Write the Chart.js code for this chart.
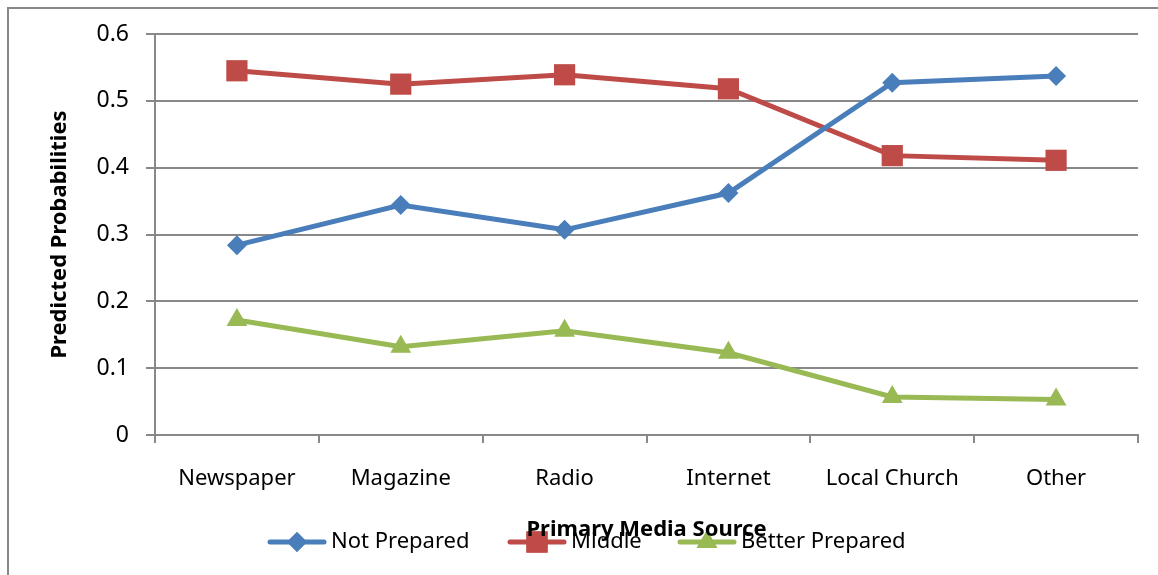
<!DOCTYPE html>
<html>
<head>
<meta charset="utf-8">
<script src="https://cdn.jsdelivr.net/npm/chart.js@4.4.1/dist/chart.umd.min.js"></script>
<style>
  html, body { margin: 0; padding: 0; background: #fff; }
  #wrap { width: 1158px; height: 575px; position: relative; }
</style>
</head>
<body>
<div id="wrap"><canvas id="chart"></canvas></div>
<script>
// categories and predicted probabilities
const categories = ['Newspaper', 'Magazine', 'Radio', 'Internet', 'Local Church', 'Other'];
const notPrepared = [0.284, 0.344, 0.307, 0.362, 0.527, 0.537];
const middle = [0.545, 0.525, 0.539, 0.518, 0.418, 0.411];
const betterPrepared = [0.172, 0.132, 0.156, 0.123, 0.057, 0.053];
const yTicks = [0, 0.1, 0.2, 0.3, 0.4, 0.5, 0.6];

const FONT = "'Noto Sans', 'DejaVu Sans', sans-serif";
const GRID = '#888888';

const series = [
  { label: 'Not Prepared', data: notPrepared, color: '#4A7EBB', style: 'rectRot', radius: 10 },
  { label: 'Middle', data: middle, color: '#BE4B48', style: 'rect', radius: 15 },
  { label: 'Better Prepared', data: betterPrepared, color: '#98B954', style: 'triangle', radius: 12 }
];

// frame round the chart (left and top edges only are visible)
const framePlugin = {
  id: 'frame',
  afterDraw(chart) {
    const ctx = chart.ctx;
    ctx.save();
    ctx.strokeStyle = GRID;
    ctx.lineWidth = 2;
    ctx.beginPath();
    ctx.moveTo(8, 575);
    ctx.lineTo(8, 8);
    ctx.lineTo(1158, 8);
    ctx.stroke();
    ctx.restore();
  }
};

// excel-like legend: line with the marker in the middle, drawn under the axis title
const legendPlugin = {
  id: 'lineLegend',
  beforeDraw(chart) {
    const ctx = chart.ctx;
    const y = 542;
    const starts = [270, 510, 680];
    ctx.save();
    ctx.font = '22px ' + FONT;
    ctx.textBaseline = 'middle';
    chart.data.datasets.forEach((ds, i) => {
      const x0 = starts[i];
      ctx.strokeStyle = ds.borderColor;
      ctx.lineWidth = 5;
      ctx.lineCap = 'round';
      ctx.beginPath();
      ctx.moveTo(x0, y);
      ctx.lineTo(x0 + 54, y);
      ctx.stroke();
      ctx.fillStyle = ds.borderColor;
      Chart.helpers.drawPoint(ctx, { pointStyle: ds.pointStyle, radius: ds.pointRadius, borderWidth: 0 }, x0 + 27, y);
      ctx.fill();
      ctx.fillStyle = '#000';
      ctx.fillText(ds.label, x0 + 61, y);
    });
    ctx.restore();
  }
};

const ctx = document.getElementById('chart').getContext('2d');
new Chart(ctx, {
  type: 'line',
  data: {
    labels: categories,
    datasets: series.map(s => ({
      label: s.label,
      data: s.data,
      borderColor: s.color,
      backgroundColor: s.color,
      borderWidth: 5,
      pointStyle: s.style,
      pointRadius: s.radius,
      pointHoverRadius: s.radius,
      pointBorderWidth: 0,
      tension: 0
    }))
  },
  options: {
    responsive: true,
    maintainAspectRatio: false,
    animation: false,
    layout: { padding: { top: 34, right: 20, left: 47, bottom: 32 } },
    plugins: {
      legend: { display: false },
      tooltip: { enabled: false }
    },
    scales: {
      x: {
        offset: true,
        grid: {
          offset: true,
          drawOnChartArea: false,
          drawTicks: true,
          tickLength: 8,
          color: GRID,
          lineWidth: 2
        },
        border: { color: GRID, width: 2 },
        ticks: { color: '#000', font: { family: FONT, size: 22 }, padding: 23, maxRotation: 0 },
        title: {
          display: true,
          text: 'Primary Media Source',
          color: '#000',
          font: { family: FONT, size: 22, weight: 'bold' },
          padding: { top: 0, bottom: 0 }
        },
        afterFit(scale) { scale.height = 108; }
      },
      y: {
        min: 0,
        max: 0.6,
        afterBuildTicks(scale) { scale.ticks = yTicks.map(v => ({ value: v })); },
        grid: {
          color: GRID,
          lineWidth: 2,
          drawTicks: true,
          tickLength: 9
        },
        border: { color: GRID, width: 2 },
        ticks: {
          color: '#000',
          font: { family: FONT, size: 23 },
          padding: 17,
          callback: v => String(+v.toFixed(1))
        },
        title: {
          display: true,
          text: 'Predicted Probabilities',
          color: '#000',
          font: { family: FONT, size: 22, weight: 'bold' },
          padding: { top: 0, bottom: 0 }
        },
        afterFit(scale) { scale.width = 108; }
      }
    }
  },
  plugins: [framePlugin, legendPlugin]
});
</script>
</body>
</html>
